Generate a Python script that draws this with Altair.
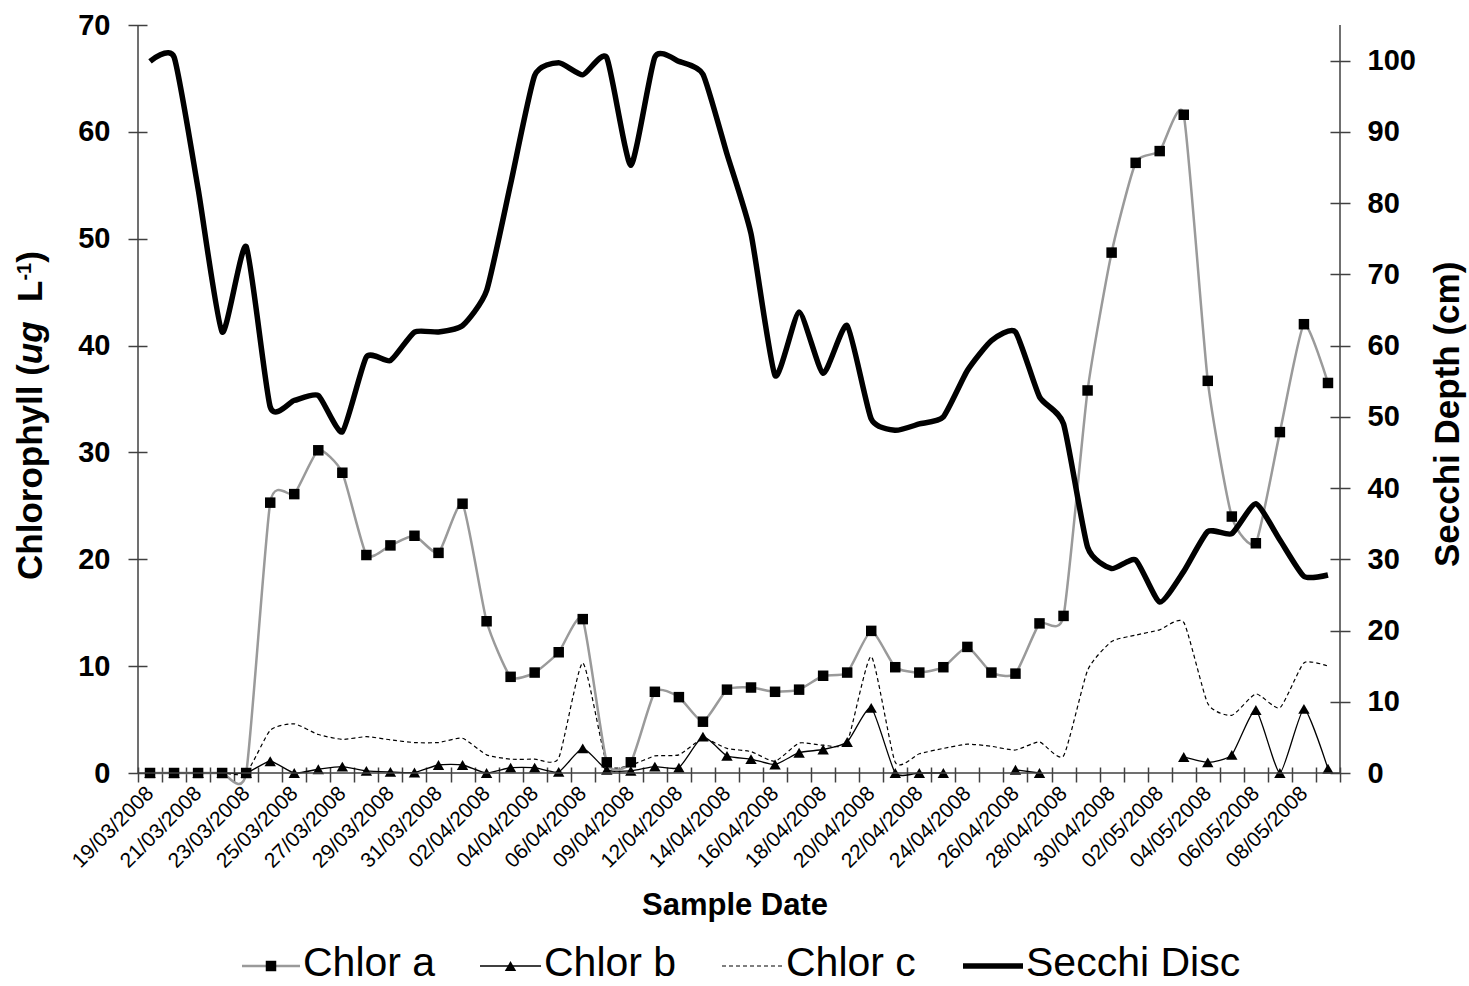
import altair as alt
import pandas as pd

# ---------------- data ----------------
dates = ["19/03/2008", "20/03/2008", "21/03/2008", "22/03/2008", "23/03/2008",
         "24/03/2008", "25/03/2008", "26/03/2008", "27/03/2008", "28/03/2008",
         "29/03/2008", "30/03/2008", "31/03/2008", "01/04/2008", "02/04/2008",
         "03/04/2008", "04/04/2008", "05/04/2008", "06/04/2008", "08/04/2008",
         "09/04/2008", "10/04/2008", "12/04/2008", "13/04/2008", "14/04/2008",
         "15/04/2008", "16/04/2008", "17/04/2008", "18/04/2008", "19/04/2008",
         "20/04/2008", "21/04/2008", "22/04/2008", "23/04/2008", "24/04/2008",
         "25/04/2008", "26/04/2008", "27/04/2008", "28/04/2008", "29/04/2008",
         "30/04/2008", "01/05/2008", "02/05/2008", "03/05/2008", "04/05/2008",
         "05/05/2008", "06/05/2008", "07/05/2008", "08/05/2008", "09/05/2008"]

chlor_a = [0, 0, 0, 0, 0, 25.3, 26.1, 30.2, 28.1, 20.4,
           21.3, 22.2, 20.6, 25.2, 14.2, 9.0, 9.4, 11.3, 14.4, 1.0,
           1.0, 7.6, 7.1, 4.8, 7.8, 8.0, 7.6, 7.8, 9.1, 9.4,
           13.3, 9.9, 9.4, 9.9, 11.8, 9.4, 9.3, 14.0, 14.7, 35.8,
           48.7, 57.1, 58.2, 61.6, 36.7, 24.0, 21.5, 31.9, 42.0, 36.5]

chlor_b = [0, 0, 0, 0, 0, 1.1, 0, 0.35, 0.6, 0.2,
           0.1, 0.05, 0.75, 0.75, 0, 0.5, 0.5, 0.1, 2.3, 0.3,
           0.2, 0.6, 0.5, 3.4, 1.6, 1.3, 0.8, 1.9, 2.2, 2.9,
           6.1, 0, 0, 0, None, None, 0.3, 0, None, None,
           None, None, None, 1.5, 1.0, 1.7, 5.9, 0, 6.0, 0.4]

chlor_c = [0, 0, 0, 0, 0, 4.0, 4.6, 3.6, 3.15, 3.4,
           3.1, 2.85, 2.85, 3.25, 1.7, 1.3, 1.3, 1.4, 10.3, 0.9,
           0.75, 1.6, 1.7, 3.2, 2.3, 2.0, 1.1, 2.8, 2.6, 2.9,
           10.9, 1.0, 1.8, 2.3, 2.7, 2.5, 2.15, 2.9, 1.6, 9.6,
           12.3, 12.9, 13.4, 14.1, 6.5, 5.4, 7.4, 6.1, 10.3, 10.0]

secchi = [99.9, 100.5, 82.0, 61.9, 73.9, 51.4, 52.3, 53.0, 47.9, 58.4,
          57.9, 61.9, 61.9, 62.8, 67.7, 82.7, 97.9, 99.7, 98.0, 100.4,
          85.3, 100.5, 99.9, 98.1, 86.9, 75.7, 55.8, 64.7, 56.1, 62.8,
          49.7, 48.1, 49.0, 50.0, 56.5, 60.7, 61.9, 52.8, 49.0, 31.7,
          28.7, 29.9, 24.0, 28.3, 33.9, 33.6, 37.8, 32.7, 27.6, 27.8]

series_names = ["Chlor a", "Chlor b", "Chlor c", "Secchi Disc"]
left_ticks = [0, 10, 20, 30, 40, 50, 60, 70]
right_ticks = [0, 10, 20, 30, 40, 50, 60, 70, 80, 90, 100]

# ---------------- layout / style ----------------
W, H = 1202, 748
PAD = {"left": 138, "top": 25, "right": 1469 - 138 - W, "bottom": 986 - 25 - H}
FONT = "Liberation Sans"
AXIS_COLOR = "#404040"
GRAY = "#9a9a9a"
TENSION = 0.45

df = pd.DataFrame({"i": list(range(len(dates))), "date": dates,
                   "a": chlor_a, "b": chlor_b, "c": chlor_c, "s": secchi})

label_js = "[" + ",".join("'%s'" % d for d in dates) + "]"
xscale = alt.Scale(domain=[-0.5, len(dates) - 0.5], nice=False, zero=False)
x_tick_values = [k / 2 for k in range(-1, 2 * len(dates))]
x_axis = alt.Axis(
    values=x_tick_values,
    labelExpr="(datum.value % 2 === 0) ? " + label_js + "[datum.value] : ''",
    tickOpacity={"condition": {"test": "datum.value % 1 !== 0", "value": 1}, "value": 0},
    tickSize=15, offset=-6, domain=False, grid=False,
    labelAngle=315, labelAlign="right", labelBaseline="middle", labelPadding=8,
    labelFont=FONT, labelFontSize=21, labelColor="black",
    labelOverlap=False, labelFlush=False, labelBound=False,
    tickColor=AXIS_COLOR, tickWidth=1.5, title=None)

yl_scale = alt.Scale(domain=[0, 70], nice=False, zero=True)
yl_axis = alt.Axis(values=left_ticks, orient="left", offset=-9, tickSize=19,
                   domain=False, grid=False, labelFont=FONT, labelFontSize=29,
                   labelFontWeight="bold", labelColor="black", labelPadding=18,
                   tickColor=AXIS_COLOR, tickWidth=1.5, title=None)
yr_scale = alt.Scale(domain=[0, 105], nice=False, zero=True)
yr_axis = alt.Axis(values=right_ticks, orient="right", offset=-10, tickSize=20,
                   domain=False, grid=False, labelFont=FONT, labelFontSize=29,
                   labelFontWeight="bold", labelColor="black", labelPadding=17,
                   tickColor=AXIS_COLOR, tickWidth=1.5, title=None)

base = alt.Chart(df)
X = alt.X("i:Q", scale=xscale, axis=x_axis)


def YL(field):
    return alt.Y(field + ":Q", scale=yl_scale, axis=yl_axis)


c_line = base.mark_line(color="black", strokeWidth=1.2, strokeDash=[4, 3],
                        interpolate="cardinal", tension=TENSION).encode(x=X, y=YL("c"))
b_line = base.mark_line(color="black", strokeWidth=1.3, interpolate="cardinal",
                        tension=TENSION).encode(x=X, y=YL("b"))
a_line = base.mark_line(color=GRAY, strokeWidth=2.5, interpolate="cardinal",
                        tension=TENSION).encode(x=X, y=YL("a"))
b_pts = base.mark_point(shape="triangle-up", filled=True, color="black", size=130,
                        opacity=1).encode(x=X, y=YL("b"))
a_pts = base.mark_point(shape="square", filled=True, color="black", size=110,
                        opacity=1).encode(x=X, y=YL("a"))
left = alt.layer(c_line, b_line, a_line, b_pts, a_pts)

s_line = base.mark_line(color="black", strokeWidth=5.5, interpolate="cardinal",
                        tension=TENSION).encode(
    x=X, y=alt.Y("s:Q", scale=yr_scale, axis=yr_axis))

one = pd.DataFrame({"k": [0]})


def rule(x, x2, y, y2, color=AXIS_COLOR, width=1.5, dash=None):
    kw = dict(color=color, strokeWidth=width)
    if dash:
        kw["strokeDash"] = dash
    return alt.Chart(one).mark_rule(**kw).encode(
        x=alt.value(x), x2=alt.value(x2), y=alt.value(y), y2=alt.value(y2))


def txt(s, x, y, size, weight="bold", style="normal", angle=0, align="left"):
    return alt.Chart(one).mark_text(
        text=s, font=FONT, fontSize=size, fontWeight=weight, fontStyle=style,
        angle=angle, align=align, baseline="alphabetic", color="black").encode(
        x=alt.value(x), y=alt.value(y))


annotations = []
# axis lines
annotations.append(rule(0, 0, 0, H))
annotations.append(rule(W, W, 0, H))
annotations.append(rule(0, W, H, H))

# left axis title: Chlorophyll (ug L-1) with italic ug and superscript -1
TS = 35
y0 = 555
bx = -96
annotations.append(txt("Chlorophyll (", bx, y0, TS, angle=270))
y1 = y0 - 6.167 * TS
annotations.append(txt("ug", bx, y1, TS, style="italic", angle=270))
y2 = y1 - 1.222 * TS - 0.556 * TS
annotations.append(txt("L", bx, y2, TS, angle=270))
y3 = y2 - 0.611 * TS
annotations.append(txt("-1", bx - 11, y3, 20, angle=270))
y4 = y3 - 0.889 * 20
annotations.append(txt(")", bx, y4, TS, angle=270))

# right axis title
annotations.append(txt("Secchi Depth (cm)", 1321, 542, TS, angle=270))
# x axis title
annotations.append(txt("Sample Date", 597, 890, 31, align="center"))

# legend
LY = 941
TY = 951
legend_items = [
    dict(x0=104, x1=162, color=GRAY, width=2.5, dash=None, marker="square", tx=165),
    dict(x0=342, x1=403, color="black", width=1.3, dash=None, marker="triangle-up", tx=406),
    dict(x0=584, x1=644, color="black", width=1.2, dash=[4, 3], marker=None, tx=648),
    dict(x0=825, x1=885, color="black", width=5.5, dash=None, marker=None, tx=888),
]
for name, it in zip(series_names, legend_items):
    annotations.append(rule(it["x0"], it["x1"], LY, LY, color=it["color"],
                            width=it["width"], dash=it["dash"]))
    if it["marker"]:
        annotations.append(alt.Chart(one).mark_point(
            shape=it["marker"], filled=True, color="black",
            size=110 if it["marker"] == "square" else 130, opacity=1).encode(
            x=alt.value((it["x0"] + it["x1"]) / 2), y=alt.value(LY)))
    annotations.append(txt(name, it["tx"], TY, 41, weight="normal"))

chart = alt.layer(left, s_line, *annotations).resolve_scale(
    y="independent"
).properties(
    width=W, height=H, padding=PAD,
    autosize=alt.AutoSizeParams(type="none"),
    background="white",
).configure_view(stroke=None)

chart.save("out.html", embed_options={"renderer": "svg", "actions": False})
